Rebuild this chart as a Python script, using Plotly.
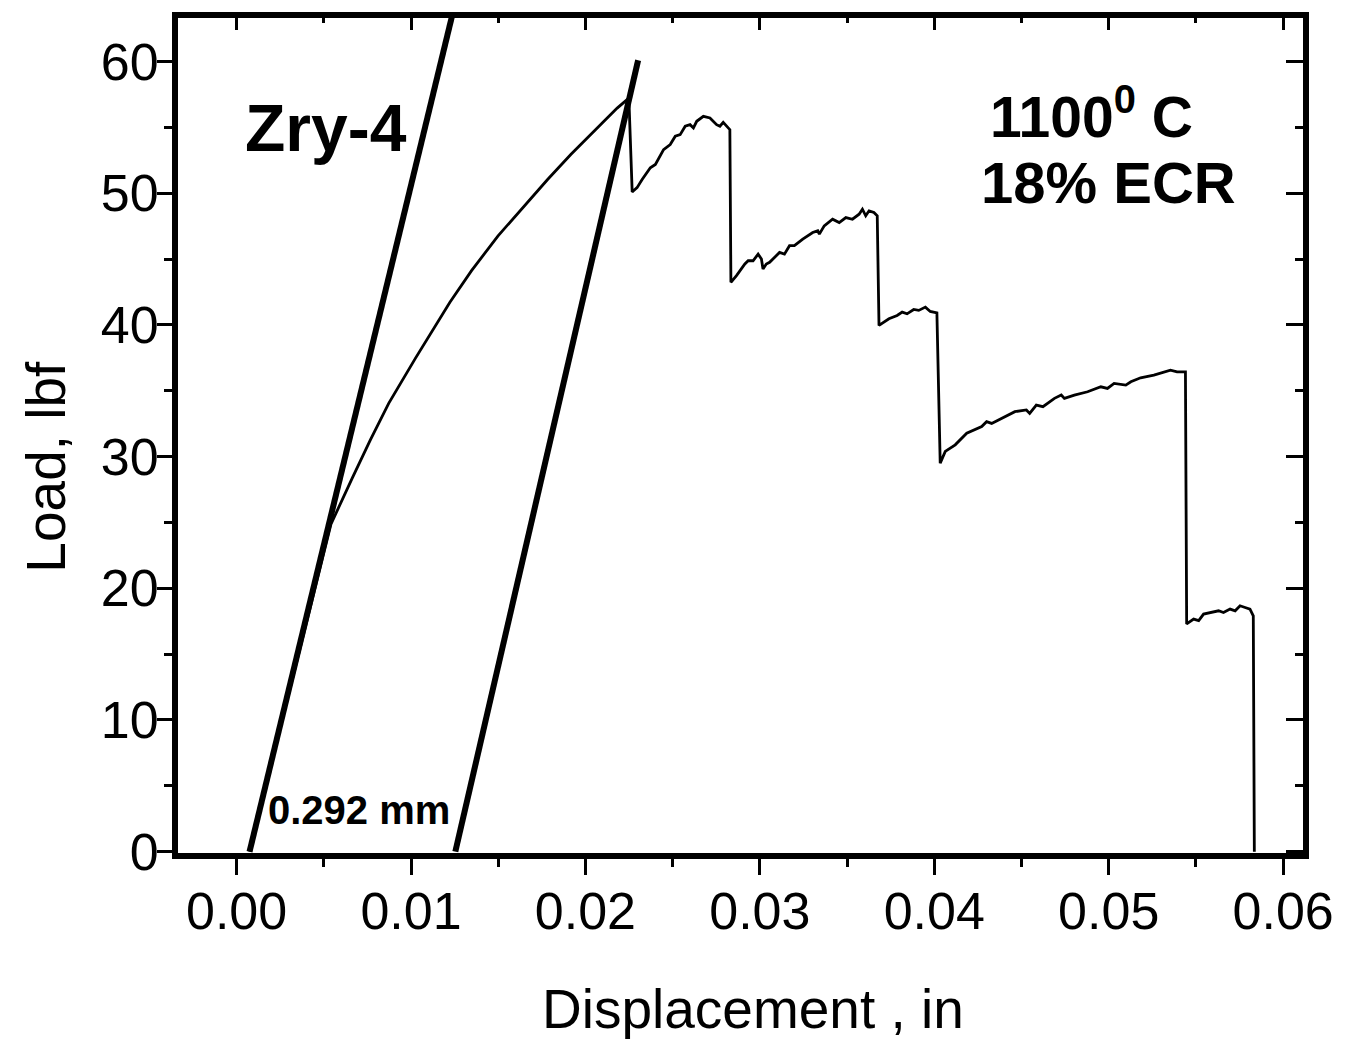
import plotly.graph_objects as go

# Load-displacement curve (Zry-4, 1100 C, 18% ECR)
disp_in = [0.00074, 0.00541, 0.00663, 0.00767, 0.00872, 0.01024, 0.01223, 0.01347,
           0.01499, 0.01651, 0.01783, 0.01916, 0.02068, 0.02182, 0.02249,
           0.02268, 0.02274, 0.02296, 0.02325, 0.02372, 0.02401, 0.02448, 0.02486,
           0.02515, 0.02543, 0.02572, 0.02600, 0.02619, 0.02638, 0.02676, 0.02714,
           0.02752, 0.02771, 0.02790, 0.02828,
           0.02834, 0.02866, 0.02914, 0.02933, 0.02961, 0.02990, 0.03009, 0.03018,
           0.03037, 0.03056, 0.03084, 0.03113, 0.03141, 0.03170, 0.03198, 0.03246,
           0.03303, 0.03332, 0.03341, 0.03369, 0.03417, 0.03455, 0.03493, 0.03531,
           0.03569, 0.03588, 0.03607, 0.03626, 0.03654, 0.03673,
           0.03683, 0.03740, 0.03787, 0.03816, 0.03844, 0.03882, 0.03911, 0.03949,
           0.03977, 0.04015,
           0.04034, 0.04063, 0.04120, 0.04186, 0.04272, 0.04300, 0.04329, 0.04386,
           0.04462, 0.04528, 0.04547, 0.04585, 0.04623, 0.04689, 0.04728, 0.04746,
           0.04803, 0.04879, 0.04955, 0.04993, 0.05031, 0.05098, 0.05127, 0.05183,
           0.05259, 0.05354, 0.05392, 0.05440,
           0.05447, 0.05487, 0.05516, 0.05544, 0.05592, 0.05630, 0.05658, 0.05696,
           0.05725, 0.05753, 0.05782, 0.05810, 0.05829, 0.05835]
load_lbf = [0.0, 24.87, 28.37, 31.27, 34.04, 37.44, 41.72, 44.12,
            46.76, 49.03, 51.04, 52.93, 54.95, 56.46, 57.22,
            50.10, 50.17, 50.42, 51.04, 51.93, 52.18, 53.31, 53.69,
            54.32, 54.44, 55.08, 55.20, 54.95, 55.46, 55.83, 55.71,
            55.20, 55.08, 55.38, 54.82,
            43.23, 43.74, 44.62, 44.87, 44.87, 45.37, 45.00, 44.24,
            44.62, 44.75, 45.12, 45.50, 45.37, 46.01, 46.01, 46.51,
            47.01, 47.14, 46.89, 47.52, 48.02, 47.77, 48.15, 48.02,
            48.40, 48.78, 48.28, 48.66, 48.53, 48.28,
            39.96, 40.46, 40.71, 40.97, 40.84, 41.17, 41.10, 41.35,
            41.02, 40.91,
            29.50, 30.39, 30.89, 31.77, 32.28, 32.65, 32.52, 32.90,
            33.41, 33.54, 33.28, 33.91, 33.79, 34.42, 34.67, 34.42,
            34.67, 34.92, 35.30, 35.17, 35.55, 35.43, 35.68, 35.98,
            36.18, 36.56, 36.43, 36.43,
            17.29, 17.66, 17.54, 18.04, 18.16, 18.29, 18.16, 18.42,
            18.29, 18.67, 18.54, 18.42, 17.91, 0.0]

# Elastic loading / unloading lines (offset 0.292 mm)
elastic_x = [0.00074, 0.01236]
elastic_y = [0.0, 63.5]
unload_x = [0.01254, 0.02302]
unload_y = [0.0, 60.09]

FONT = "Liberation Sans, Arial, sans-serif"

fig = go.Figure()
fig.add_trace(go.Scatter(x=elastic_x, y=elastic_y, mode="lines",
                         line=dict(color="black", width=6), showlegend=False))
fig.add_trace(go.Scatter(x=unload_x, y=unload_y, mode="lines",
                         line=dict(color="black", width=6), showlegend=False))
fig.add_trace(go.Scatter(x=disp_in, y=load_lbf, mode="lines",
                         line=dict(color="black", width=2.8), showlegend=False))
fig.add_trace(go.Scatter(x=[None], y=[None], xaxis="x2", yaxis="y2",
                         showlegend=False, hoverinfo="skip"))

xr = [-0.00336, 0.06114]
yr = [-0.1, 63.3]

fig.update_layout(
    width=1346, height=1039,
    margin=dict(l=178, r=36, t=14, b=186),
    paper_bgcolor="white", plot_bgcolor="white",
    showlegend=False,
    xaxis=dict(range=xr, tick0=0, dtick=0.01, tickformat=".2f",
               ticks="outside", ticklen=16, tickwidth=3, tickcolor="black",
               ticklabelstandoff=-8,
               showline=True, linewidth=6, linecolor="black", mirror=True,
               showgrid=False, zeroline=False,
               minor=dict(dtick=0.005, tick0=0, ticks="outside", ticklen=8,
                          tickwidth=3, tickcolor="black"),
               tickfont=dict(family=FONT, size=52, color="black")),
    yaxis=dict(range=yr, tick0=0, dtick=10,
               ticks="outside", ticklen=15, tickwidth=3, tickcolor="black",
               ticklabelstandoff=-12,
               showline=True, linewidth=6, linecolor="black", mirror=True,
               showgrid=False, zeroline=False,
               minor=dict(dtick=5, tick0=0, ticks="outside", ticklen=8,
                          tickwidth=3, tickcolor="black"),
               tickfont=dict(family=FONT, size=52, color="black")),
    xaxis2=dict(range=xr, overlaying="x", side="top", tick0=0, dtick=0.01,
                ticks="inside", ticklen=12, tickwidth=3, tickcolor="black",
                showticklabels=False, showline=False, showgrid=False, zeroline=False,
                minor=dict(dtick=0.005, tick0=0, ticks="inside", ticklen=5,
                           tickwidth=3, tickcolor="black")),
    yaxis2=dict(range=yr, overlaying="y", side="right", tick0=0, dtick=10,
                ticks="inside", ticklen=17, tickwidth=3, tickcolor="black",
                showticklabels=False, showline=False, showgrid=False, zeroline=False,
                minor=dict(dtick=5, tick0=0, ticks="inside", ticklen=8,
                           tickwidth=3, tickcolor="black")),
)

annos = [
    dict(text="Displacement , in", xref="paper", yref="paper", x=0.5115, y=-0.187,
         xanchor="center", yanchor="middle", showarrow=False,
         font=dict(family=FONT, size=55, color="black")),
    dict(text="Load, lbf", xref="paper", yref="paper", x=-0.1175, y=0.4625,
         xanchor="center", yanchor="middle", textangle=-90, showarrow=False,
         font=dict(family=FONT, size=55, color="black")),
    dict(text="<b>Zry-4</b>", x=0.00513, y=54.95, xanchor="center", yanchor="middle",
         showarrow=False, font=dict(family=FONT, size=66, color="black")),
    dict(text="<b>1100<sup>0</sup> C</b>", x=0.04900, y=56.1, xanchor="center",
         yanchor="middle", showarrow=False, font=dict(family=FONT, size=57, color="black")),
    dict(text="<b>18% ECR</b>", x=0.05000, y=50.8, xanchor="center", yanchor="middle",
         showarrow=False, font=dict(family=FONT, size=58, color="black")),
    dict(text="<b>0.292 mm</b>", x=0.0070, y=3.2, xanchor="center", yanchor="middle",
         showarrow=False, font=dict(family=FONT, size=40, color="black")),
]
fig.update_layout(annotations=annos)

fig.write_html("out.html")
